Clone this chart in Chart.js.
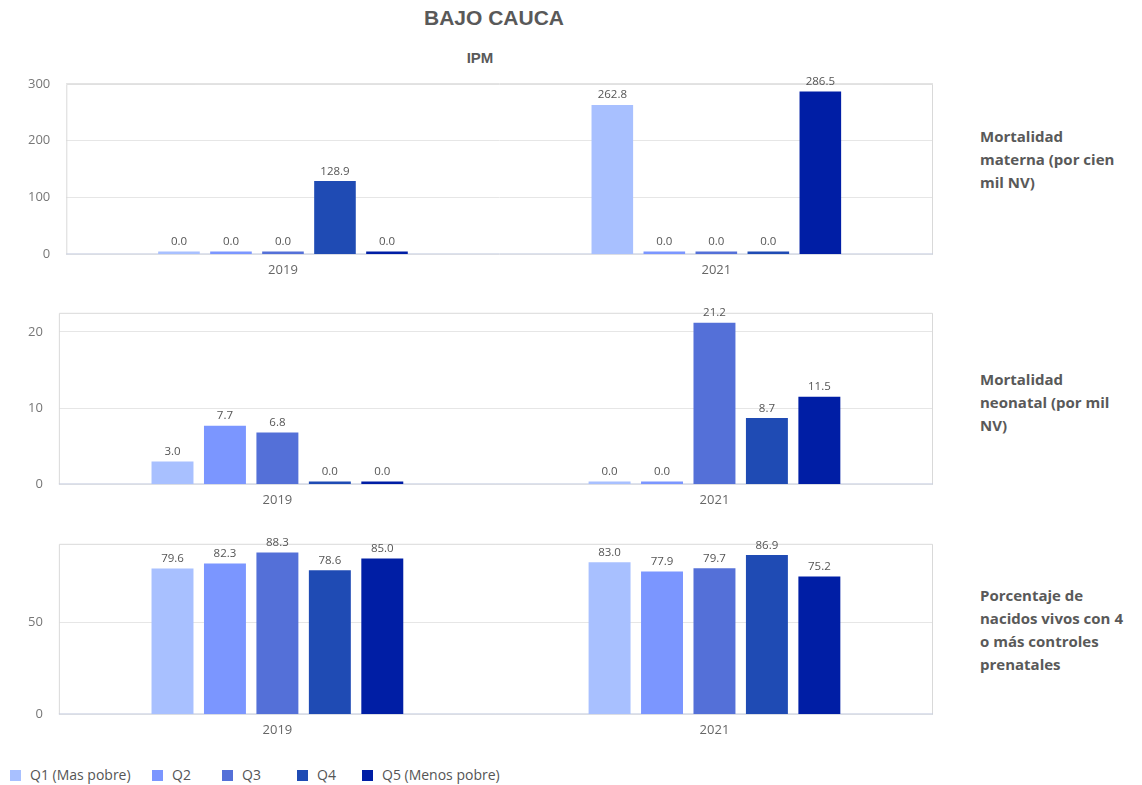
<!DOCTYPE html>
<html>
<head>
<meta charset="utf-8">
<script src="https://cdn.jsdelivr.net/npm/chart.js@4.4.1/dist/chart.umd.min.js"></script>
<style>
  html, body { margin: 0; padding: 0; background: #fff; }
  body { width: 1142px; height: 785px; position: relative; overflow: hidden; font-family: "Open Sans", sans-serif; }
  .title { position: absolute; text-align: center; font-family: "Liberation Sans", Arial, sans-serif; font-weight: bold; color: #595959; }
  .cv { position: absolute; left: 0; width: 940px; }
  .side { position: absolute; left: 980px; width: 165px; font-family: "Open Sans", sans-serif; font-weight: bold; font-size: 15px; line-height: 23px; color: #595959; }
  .lgitem { position: absolute; top: 765px; font-family: "Open Sans", sans-serif; font-size: 14px; color: #555; white-space: nowrap; }
  .lgitem span.sw { display: inline-block; width: 11px; height: 11px; margin-right: 9px; vertical-align: -1px; }
</style>
</head>
<body>
<div class="title" style="top:6px;left:394px;width:200px;font-size:21px;">BAJO CAUCA</div>
<div class="title" style="top:49px;left:430px;width:100px;font-size:15px;">IPM</div>

<div class="cv" style="top:60px;height:226px;"><canvas id="c1"></canvas></div>
<div class="cv" style="top:289px;height:227px;"><canvas id="c2"></canvas></div>
<div class="cv" style="top:520px;height:226px;"><canvas id="c3"></canvas></div>

<div class="side" style="top:125px;">Mortalidad<br>materna (por cien<br>mil NV)</div>
<div class="side" style="top:368px;">Mortalidad<br>neonatal (por mil<br>NV)</div>
<div class="side" style="top:584px;">Porcentaje de<br>nacidos vivos con 4<br>o más controles<br>prenatales</div>

<div id="legend"></div>

<script>
// ---- Data ----
const years = ["2019", "2021"];
const seriesNames = ["Q1 (Mas pobre)", "Q2", "Q3", "Q4", "Q5 (Menos pobre)"];
const seriesColors = ["#A8C0FF", "#7B96FF", "#5470D8", "#1F4BB4", "#001EA5"];

// Mortalidad materna (por cien mil NV): [2019, 2021] per quintile
const materna_Q1 = [0.0, 262.8];
const materna_Q2 = [0.0, 0.0];
const materna_Q3 = [0.0, 0.0];
const materna_Q4 = [128.9, 0.0];
const materna_Q5 = [0.0, 286.5];

// Mortalidad neonatal (por mil NV)
const neonatal_Q1 = [3.0, 0.0];
const neonatal_Q2 = [7.7, 0.0];
const neonatal_Q3 = [6.8, 21.2];
const neonatal_Q4 = [0.0, 8.7];
const neonatal_Q5 = [0.0, 11.5];

// Porcentaje de nacidos vivos con 4 o más controles prenatales
const controles_Q1 = [79.6, 83.0];
const controles_Q2 = [82.3, 77.9];
const controles_Q3 = [88.3, 79.7];
const controles_Q4 = [78.6, 86.9];
const controles_Q5 = [85.0, 75.2];

// Axis settings
const maternaTicks = { max: 300, step: 100 };
const neonatalTicks = { max: 22.5, step: 10 };
const controlesTicks = { max: 93, step: 50 };

// ---- Plugins ----
const frameAndLabels = {
  id: 'frameAndLabels',
  beforeDatasetsDraw(chart) {
    const { ctx, chartArea: a } = chart;
    ctx.save();
    ctx.strokeStyle = '#d9d9d9';
    ctx.lineWidth = 1;
    ctx.beginPath();
    ctx.moveTo(a.left + 0.5, a.bottom);
    ctx.lineTo(a.left + 0.5, a.top + 0.5);
    ctx.lineTo(a.right - 0.5, a.top + 0.5);
    ctx.lineTo(a.right - 0.5, a.bottom);
    ctx.stroke();
    ctx.strokeStyle = '#c9d0e2';
    ctx.beginPath();
    ctx.moveTo(a.left, a.bottom - 0.5);
    ctx.lineTo(a.right, a.bottom - 0.5);
    ctx.stroke();
    ctx.restore();
  },
  afterDatasetsDraw(chart) {
    const { ctx } = chart;
    ctx.save();
    ctx.font = '11.5px "Open Sans", sans-serif';
    ctx.fillStyle = '#555';
    ctx.textAlign = 'center';
    ctx.textBaseline = 'bottom';
    chart.data.datasets.forEach((ds, i) => {
      const meta = chart.getDatasetMeta(i);
      meta.data.forEach((bar, j) => {
        const v = ds.data[j];
        ctx.fillText(v.toFixed(1), bar.x, bar.y - 4);
      });
    });
    ctx.restore();
  }
};

function makeDatasets(arrs) {
  return arrs.map((d, i) => ({
    label: seriesNames[i],
    data: d,
    backgroundColor: seriesColors[i],
    borderWidth: 0,
    minBarLength: 3,
    categoryPercentage: 0.6,
    barPercentage: 0.8
  }));
}

function makeChart(id, arrs, tk) {
  return new Chart(document.getElementById(id), {
    type: 'bar',
    data: { labels: years, datasets: makeDatasets(arrs) },
    options: {
      responsive: true,
      maintainAspectRatio: false,
      animation: false,
      layout: { padding: { left: 12, right: 7, top: 8, bottom: 0 } },
      plugins: { legend: { display: false }, tooltip: { enabled: false } },
      scales: {
        x: {
          grid: { display: false, drawTicks: false },
          border: { display: false },
          ticks: { padding: 8, color: '#666', font: { family: '"Open Sans", sans-serif', size: 13 } }
        },
        y: {
          min: 0,
          max: tk.max,
          ticks: { stepSize: tk.step, padding: 16, color: '#777', font: { family: '"Open Sans", sans-serif', size: 13 } },
          afterBuildTicks(axis) {
            axis.ticks = axis.ticks.filter(t => Math.abs(t.value % tk.step) < 1e-9);
          },
          grid: { color: '#e6e6e6', drawTicks: false },
          border: { display: false }
        }
      }
    },
    plugins: [frameAndLabels]
  });
}

makeChart('c1', [materna_Q1, materna_Q2, materna_Q3, materna_Q4, materna_Q5], maternaTicks);
makeChart('c2', [neonatal_Q1, neonatal_Q2, neonatal_Q3, neonatal_Q4, neonatal_Q5], neonatalTicks);
makeChart('c3', [controles_Q1, controles_Q2, controles_Q3, controles_Q4, controles_Q5], controlesTicks);

// HTML legend
const legendX = [10, 152, 222, 297, 362];
const lg = document.getElementById('legend');
seriesNames.forEach((n, i) => {
  const item = document.createElement('div');
  item.className = 'lgitem';
  item.style.left = legendX[i] + 'px';
  const sw = document.createElement('span');
  sw.className = 'sw';
  sw.style.background = seriesColors[i];
  item.appendChild(sw);
  item.appendChild(document.createTextNode(n));
  lg.appendChild(item);
});
</script>
</body>
</html>
